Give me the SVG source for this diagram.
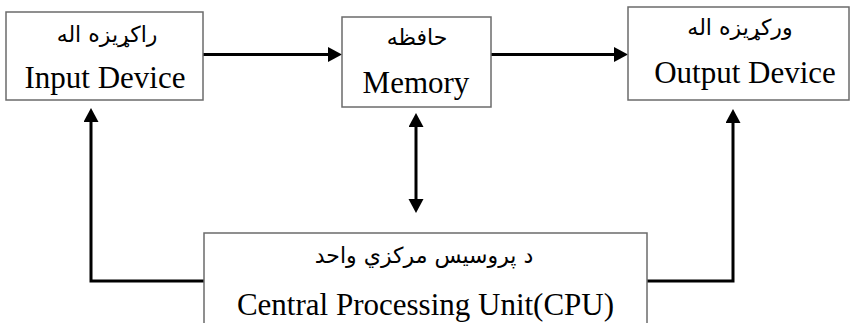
<svg xmlns="http://www.w3.org/2000/svg" width="851" height="323" viewBox="0 0 851 323">
  <style>
    .box { fill: #ffffff; stroke: #6b6b6b; stroke-width: 1.5; }
    .en { font-family: "Liberation Serif", "Times New Roman", serif; font-size: 31px; fill: #000; text-anchor: middle; }
    .ar { font-family: "DejaVu Sans", "Noto Sans", sans-serif; font-size: 22px; fill: #000; text-anchor: middle; direction: rtl; unicode-bidi: embed; }
    .wire { fill: none; stroke: #000; stroke-width: 3; }
  </style>
  <defs>
    <marker id="head" markerUnits="userSpaceOnUse" markerWidth="16" markerHeight="16" refX="2" refY="7.5" orient="auto-start-reverse">
      <path d="M0,0 L14,7.5 L0,15 Z" fill="#000"/>
    </marker>
  </defs>

  <rect width="851" height="323" fill="#ffffff"/>

  <!-- connectors -->
  <g id="connectors">
    <path class="wire" d="M203,54.5 H330" marker-end="url(#head)"/>
    <path class="wire" d="M491,54.5 H616" marker-end="url(#head)"/>
    <path class="wire" d="M416,125 V201" marker-start="url(#head)" marker-end="url(#head)"/>
    <path class="wire" d="M204,281 H91 V120" marker-end="url(#head)"/>
    <path class="wire" d="M647,281 H733 V121" marker-end="url(#head)"/>
  </g>

  <!-- input unit -->
  <g id="input">
    <rect class="box" x="6" y="12" width="197" height="88"/>
    <text class="ar" x="107" y="42">راکړیزه اله</text>
    <text class="en" x="105" y="88">Input Device</text>
  </g>

  <!-- memory -->
  <g id="memory">
    <rect class="box" x="342" y="17" width="149" height="90"/>
    <text class="ar" x="417" y="45">حافظه</text>
    <text class="en" x="416" y="93">Memory</text>
  </g>

  <!-- output unit -->
  <g id="output">
    <rect class="box" x="628" y="7" width="221" height="93"/>
    <text class="ar" x="740" y="35">ورکړیزه اله</text>
    <text class="en" x="745" y="83">Output Device</text>
  </g>

  <!-- central processing unit -->
  <g id="cpu">
    <rect class="box" x="204" y="233" width="443" height="100"/>
    <text class="ar" x="424" y="263">د پروسيس مرکزي واحد</text>
    <text class="en" x="425.5" y="315">Central Processing Unit(CPU)</text>
  </g>
</svg>
